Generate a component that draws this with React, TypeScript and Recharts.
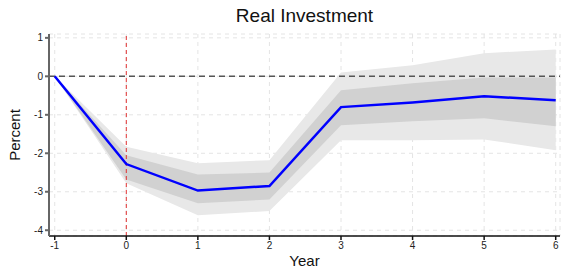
import React from "react";
import {
  ComposedChart,
  Area,
  Line,
  XAxis,
  YAxis,
  CartesianGrid,
  ReferenceLine,
  Label,
} from "recharts";

// years after the shock
const years = [-1, 0, 1, 2, 3, 4, 5, 6];
// point estimate (percent)
const irf = [0, -2.28, -2.97, -2.85, -0.8, -0.68, -0.52, -0.62];
// inner band
const innerLow = [0, -2.68, -3.3, -3.2, -1.27, -1.17, -1.09, -1.3];
const innerHigh = [0, -2.05, -2.55, -2.5, -0.36, -0.18, -0.03, -0.03];
// outer band
const outerLow = [0, -2.78, -3.61, -3.5, -1.66, -1.66, -1.64, -1.92];
const outerHigh = [0, -1.83, -2.26, -2.18, 0.1, 0.29, 0.6, 0.7];

const xTicks = [-1, 0, 1, 2, 3, 4, 5, 6];
const yTicks = [-4, -3, -2, -1, 0, 1];

const data = years.map((year, i) => ({
  year,
  irf: irf[i],
  inner: [innerLow[i], innerHigh[i]],
  outer: [outerLow[i], outerHigh[i]],
}));

const font = "'Liberation Sans', Arial, sans-serif";

const App: React.FC = () => {
  return (
    <div style={{ position: "absolute", left: 0, top: 0, width: 561, height: 269, fontFamily: font }}>
      <div
        style={{
          position: "absolute",
          left: 49,
          width: 511,
          top: 5,
          textAlign: "center",
          fontSize: 19,
          color: "#111",
        }}
      >
        Real Investment
      </div>
      <ComposedChart
        width={561}
        height={269}
        data={data}
        margin={{ top: 34, right: 1, left: 0, bottom: 0 }}
      >
        <CartesianGrid stroke="#e4e4e4" strokeDasharray="4 4" />
        <XAxis
          dataKey="year"
          type="number"
          domain={[-1.08, 6.06]}
          ticks={xTicks}
          height={33}
          stroke="#111"
          strokeWidth={1.5}
          tick={{ fontSize: 10, fill: "#222", fontFamily: font }}
          tickSize={4}
          interval={0}
        >
          <Label value="Year" position="insideBottom" offset={3} style={{ fontSize: 15, fill: "#111", fontFamily: font }} />
        </XAxis>
        <YAxis
          type="number"
          domain={[-4.15, 1.1]}
          ticks={yTicks}
          width={49}
          stroke="#666"
          strokeWidth={2}
          tick={{ fontSize: 10, fill: "#222", fontFamily: font }}
          tickSize={4}
          interval={0}
        >
          <Label
            value="Percent"
            angle={-90}
            position="insideLeft"
            offset={15}
            style={{ textAnchor: "middle", fontSize: 15, fill: "#111", fontFamily: font }}
          />
        </YAxis>
        <Area
          type="linear"
          dataKey="outer"
          stroke="none"
          fill="#e8e8e8"
          fillOpacity={1}
          isAnimationActive={false}
        />
        <Area
          type="linear"
          dataKey="inner"
          stroke="none"
          fill="#d1d1d1"
          fillOpacity={1}
          isAnimationActive={false}
        />
        <ReferenceLine y={0} stroke="#555" strokeWidth={1.5} strokeDasharray="6 4" />
        <ReferenceLine x={0} stroke="#e03030" strokeWidth={1} strokeDasharray="4 3" />
        <Line
          type="linear"
          dataKey="irf"
          stroke="#0000ff"
          strokeWidth={2.5}
          dot={false}
          isAnimationActive={false}
        />
      </ComposedChart>
    </div>
  );
};

export default App;
